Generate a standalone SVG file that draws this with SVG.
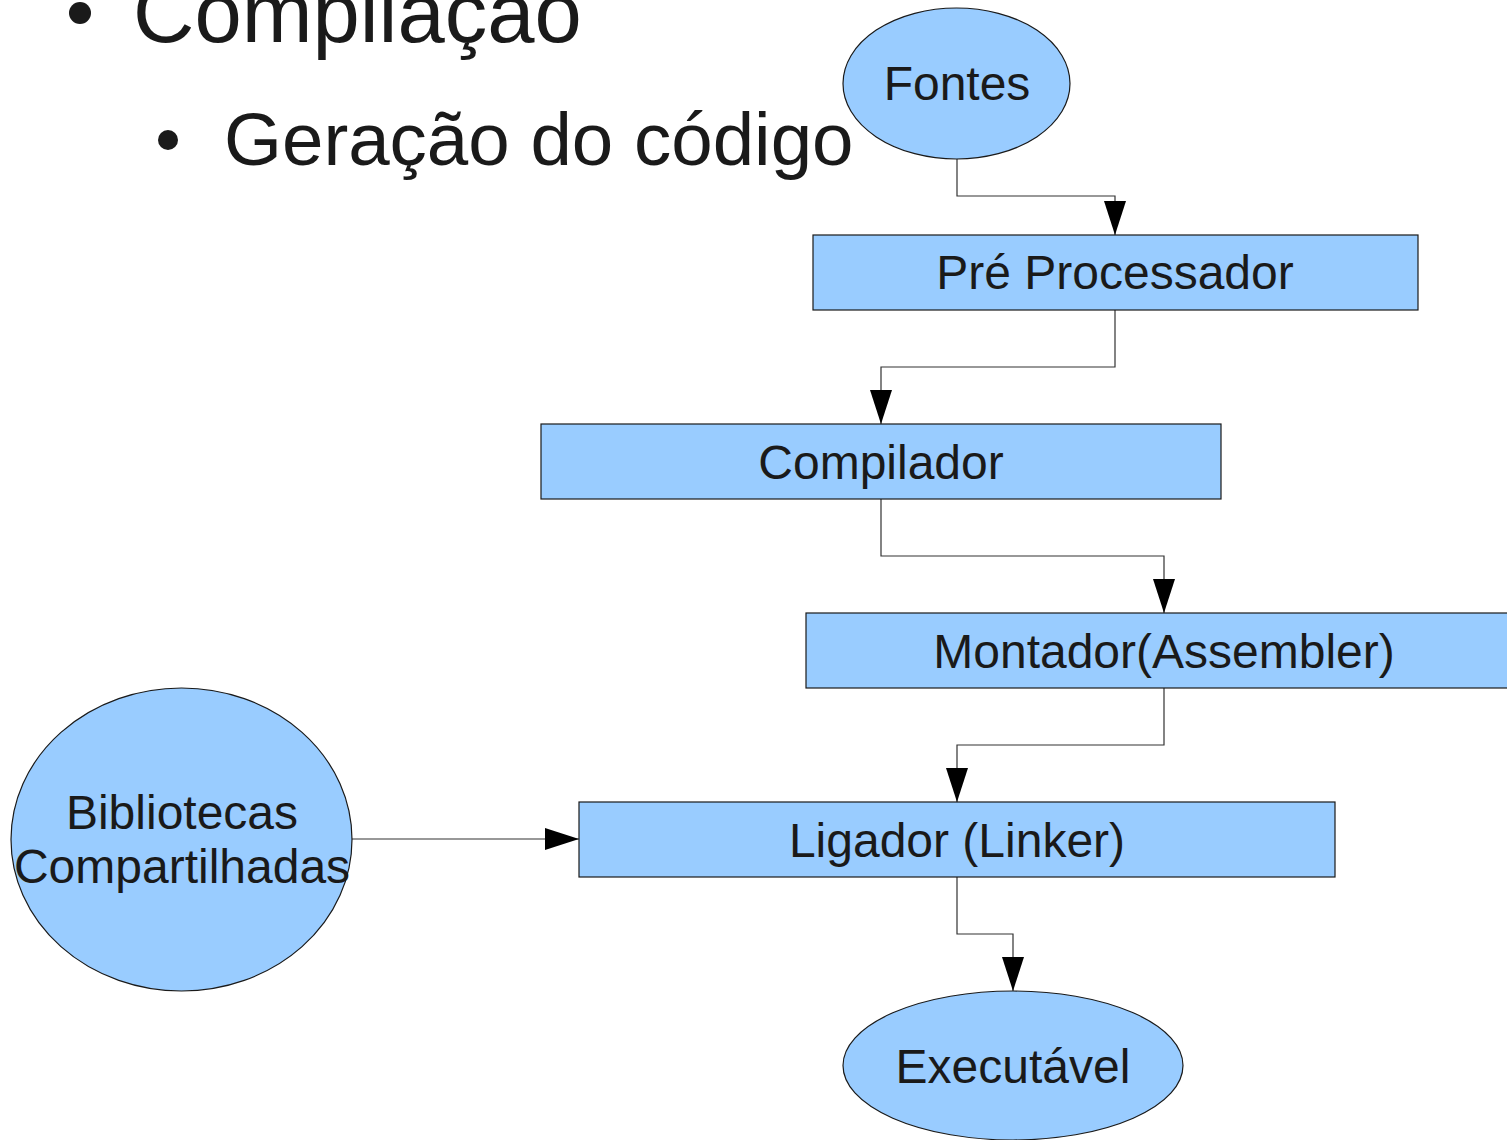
<svg xmlns="http://www.w3.org/2000/svg" width="1507" height="1140" viewBox="0 0 1507 1140">
<style>
.node{fill:#99ccff;stroke:#1a1a1a;stroke-width:1.2}
.lbl{font-family:"Liberation Sans",Arial,sans-serif;font-size:48px;fill:#1a1a1a;text-anchor:middle}
.title{font-family:"Liberation Sans",Arial,sans-serif;fill:#1a1a1a}
.conn{fill:none;stroke:#333333;stroke-width:1.2}
</style>
<defs>
<marker id="arr" markerUnits="userSpaceOnUse" markerWidth="34" markerHeight="22" refX="34" refY="11" orient="auto">
<path d="M0,0 L34,11 L0,22 z" fill="#000"/>
</marker>
</defs>
<g id="title">
<circle cx="80" cy="13" r="11" fill="#1a1a1a"/>
<text class="title" x="133" y="42" font-size="85">Compilação</text>
<circle cx="168" cy="140" r="10" fill="#1a1a1a"/>
<text class="title" x="224" y="165" font-size="74.5">Geração do código</text>
</g>
<g id="connectors">
<path class="conn" d="M957,159 V196 H1115 V235" marker-end="url(#arr)"/>
<path class="conn" d="M1115,310 V367 H881 V424" marker-end="url(#arr)"/>
<path class="conn" d="M881,499 V556 H1164 V613" marker-end="url(#arr)"/>
<path class="conn" d="M1164,688 V745 H957 V802" marker-end="url(#arr)"/>
<path class="conn" d="M957,877 V934 H1013 V991" marker-end="url(#arr)"/>
<path class="conn" d="M352,839 H579" marker-end="url(#arr)"/>
</g>
<g id="fontes">
<ellipse class="node" cx="956.5" cy="83.5" rx="113.5" ry="75.5"/>
<text class="lbl" x="957" y="100">Fontes</text>
</g>
<g id="preprocessador">
<rect class="node" x="813" y="235" width="605" height="75"/>
<text class="lbl" x="1115" y="289">Pré Processador</text>
</g>
<g id="compilador">
<rect class="node" x="541" y="424" width="680" height="75"/>
<text class="lbl" x="881" y="479">Compilador</text>
</g>
<g id="montador">
<rect class="node" x="806" y="613" width="716" height="75"/>
<text class="lbl" x="1164" y="668">Montador(Assembler)</text>
</g>
<g id="ligador">
<rect class="node" x="579" y="802" width="756" height="75"/>
<text class="lbl" x="957" y="857">Ligador (Linker)</text>
</g>
<g id="bibliotecas">
<ellipse class="node" cx="181.5" cy="839.5" rx="170.5" ry="151.5"/>
<text class="lbl" x="182" y="829">Bibliotecas</text>
<text class="lbl" x="182" y="883">Compartilhadas</text>
</g>
<g id="executavel">
<ellipse class="node" cx="1013" cy="1065.5" rx="170" ry="74.5"/>
<text class="lbl" x="1013" y="1083">Executável</text>
</g>
</svg>
